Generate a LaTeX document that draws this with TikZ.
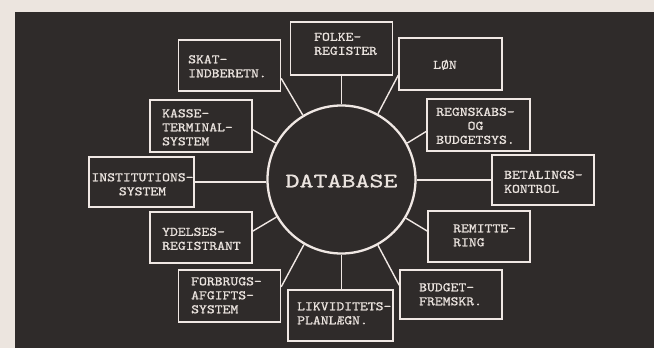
\documentclass[tikz,border=0pt]{standalone}
\usepackage{fontspec}
\usepackage{graphicx}
\newfontfamily\twfont{lmmono10-regular.otf}[FakeBold=1.0, FakeStretch=1.15]
\newfontfamily\dbfont{lmmono10-regular.otf}[FakeBold=1.1, FakeStretch=1.3]
\definecolor{cream}{RGB}{236,229,223}
\definecolor{panel}{RGB}{47,43,42}
\definecolor{linecol}{RGB}{240,232,228}
\definecolor{txtcol}{RGB}{234,227,222}
\newcommand{\twl}[1]{\begin{tabular}{@{}l@{}}#1\end{tabular}}
\newcommand{\twc}[1]{\begin{tabular}{@{}c@{}}#1\end{tabular}}
\begin{document}
\begin{tikzpicture}[x=1pt,y=-1pt,
  box/.style={draw=linecol, line width=1.4pt, fill=panel, minimum width=102pt, minimum height=51pt, inner sep=0pt},
  lbl/.style={text=txtcol, inner sep=0pt, font=\twfont\fontsize{13}{14}\selectfont},
  spoke/.style={draw=linecol, line width=1.4pt}]
\useasboundingbox (0,0) rectangle (654,348);
\fill[cream] (0,0) rectangle (654,348);
\fill[panel] (15,12) rectangle (654,348);

\node[box, minimum height=53pt] (folke) at (341.5,48.5) {};
\node[box] (skat) at (229.5,65.5) {};
\node[box, minimum width=103pt, minimum height=52pt] (loen) at (450.5,64) {};
\node[box, minimum height=52pt] (kasse) at (201,126) {};
\node[box, minimum width=103pt, minimum height=52pt] (regn) at (478.5,125) {};
\node[box, minimum width=105pt, minimum height=50pt] (inst) at (141.5,182) {};
\node[box, minimum height=50pt] (betal) at (543,180) {};
\node[box] (ydel) at (201,237.5) {};
\node[box] (remit) at (479,236.5) {};
\node[box, minimum height=52pt] (forb) at (229.5,296) {};
\node[box, minimum width=105pt] (likv) at (340.5,315.5) {};
\node[box, minimum height=49pt] (budg) at (451,294.5) {};
\node[circle, draw=linecol, line width=2.3pt, fill=panel, minimum size=148pt, inner sep=0pt] (db) at (341.5,179.5) {};

\draw[spoke] (db.north) -- (db.north |- folke.south);
\draw[spoke] (db.121) -- (skat.-14);
\draw[spoke] (db.61) -- (loen.192);
\draw[spoke] (db.29) -- (regn.187);
\draw[spoke] (db.151) -- (kasse.-4);
\draw[spoke] (inst.east) -- (inst.east -| db.west);
\draw[spoke] (betal.west) -- (betal.west -| db.east);
\draw[spoke] (db.210) -- (ydel.7);
\draw[spoke] (db.240) -- (forb.10);
\draw[spoke] (db.south) -- (db.south |- likv.north);
\draw[spoke] (db.299) -- (budg.170);
\draw[spoke] (db.329) -- (remit.174);

\node[lbl, anchor=west] (folke-t) at (314,45) {\twl{FOLKE-\\REGISTER}};
\node[lbl, anchor=west] (skat-t) at (188,67.5) {\twl{SKAT-\\INDBERETN.}};
\node[lbl, anchor=west] (loen-t) at (433,66) {\twl{LØN}};
\node[lbl, anchor=west] (kasse-t) at (162,128.5) {\twl{KASSE-\\TERMINAL-\\SYSTEM}};
\node[lbl] (regn-t) at (475.5,127) {\twc{REGNSKABS-\\OG\\BUDGETSYS.}};
\node[lbl] (inst-t) at (142.5,185.5) {\twc{INSTITUTIONS-\\SYSTEM}};
\node[lbl, anchor=west] (betal-t) at (504,183) {\twl{BETALINGS-\\KONTROL}};
\node[lbl, anchor=west] (ydel-t) at (162,240) {\twl{YDELSES-\\REGISTRANT}};
\node[lbl, anchor=west] (remit-t) at (453,236.5) {\twl{REMITTE-\\RING}};
\node[lbl, anchor=west] (forb-t) at (191,296.5) {\twl{FORBRUGS-\\AFGIFTS-\\SYSTEM}};
\node[lbl, anchor=west] (likv-t) at (297,314.5) {\twl{LIKVIDITETS-\\PLANLÆGN.}};
\node[lbl, anchor=west] (budg-t) at (419,295.5) {\twl{BUDGET-\\FREMSKR.}};
\node[text=txtcol, inner sep=0pt, font=\dbfont\fontsize{20.5}{22}\selectfont] (db-t) at (341.5,181) {DATABASE};
\end{tikzpicture}
\end{document}
